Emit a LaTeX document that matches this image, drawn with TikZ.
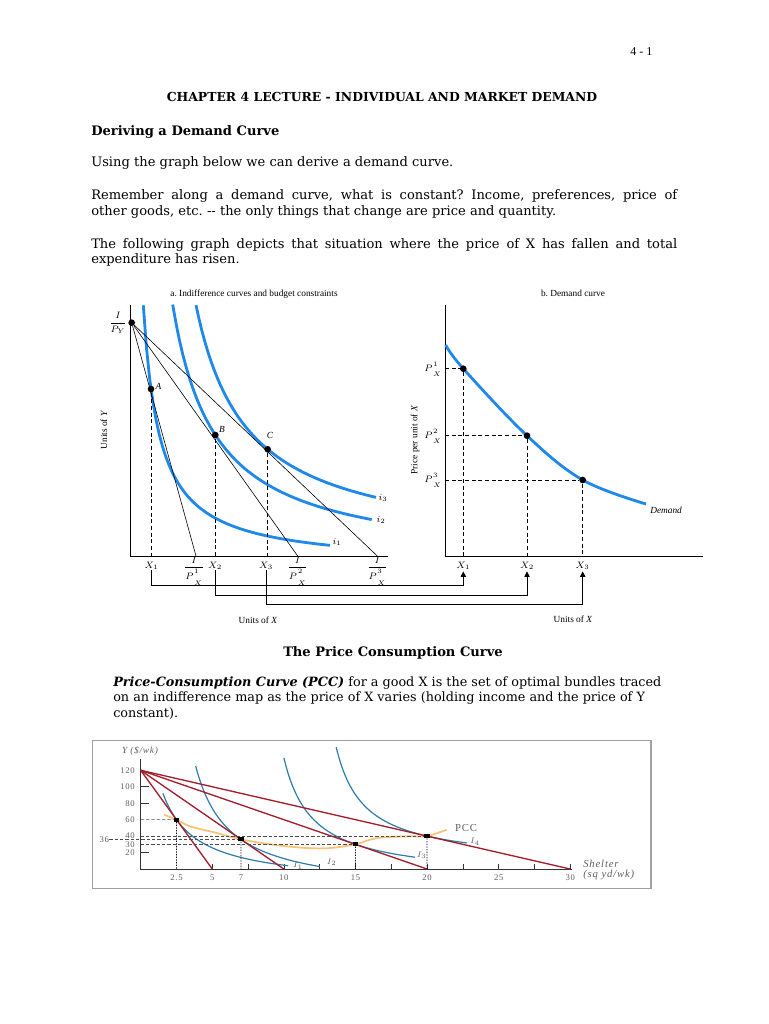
\documentclass[tikz,border=0pt]{standalone}
\usepackage{fontspec}
\setmainfont{DejaVu Serif}
\newfontfamily\figfont{Liberation Serif}
\newfontfamily\plotfont[LetterSpace=8]{Liberation Serif}
\usetikzlibrary{arrows.meta, positioning, calc}
\definecolor{curveblue}{RGB}{30,136,235}
\definecolor{icteal}{RGB}{45,125,170}
\definecolor{budgetred}{RGB}{165,30,45}
\definecolor{pccorange}{RGB}{250,195,115}
\definecolor{plotgray}{RGB}{95,95,95}
\definecolor{framegray}{RGB}{160,160,160}
\frenchspacing
\newcommand{\pricex}[2][1.2pt]{P\mkern1mu{}^{\raisebox{#1}{$\scriptstyle #2$}}_{\raisebox{-#1}{$\scriptstyle X$}}}

\begin{document}
\begin{tikzpicture}[
  x=0.75pt, y=-0.75pt,
  bodytext/.style={anchor=base west, inner sep=0pt, font=\fontsize{9.8}{12}\selectfont},
  lbl/.style={inner sep=0pt, font=\figfont\fontsize{7}{8}\selectfont},
  plbl/.style={inner sep=0pt, text=plotgray, font=\plotfont\fontsize{6.5}{7.5}\selectfont},
  icurve/.style={curveblue, line width=2.1pt},
  budget/.style={black, line width=0.45pt},
  guide/.style={black, dash pattern=on 3pt off 2pt, line width=0.6pt},
  link/.style={black, line width=0.5pt, -{Triangle[length=4pt, width=4pt]}},
  optdot/.style={circle, fill=black, inner sep=0pt, minimum size=5pt},
  bline/.style={budgetred, line width=1pt},
  tcurve/.style={icteal, line width=0.9pt},
  pdash/.style={black!70, dash pattern=on 2.5pt off 1.5pt, line width=0.5pt},
  pdot/.style={black, dash pattern=on 1pt off 1pt, line width=0.6pt},
  sqpt/.style={rectangle, fill=black, inner sep=0pt, minimum width=4pt, minimum height=3pt}
]
\useasboundingbox (0,0) rectangle (768,1024);
\fill[white] (0,0) rectangle (768,1024);

% page text
\node[anchor=base east, inner sep=0pt, font=\figfont\fontsize{9}{11}\selectfont] (pageno) at (652.7,56) {4 - 1};
\node[anchor=base, inner sep=0pt, font=\fontsize{9.3}{12}\selectfont\bfseries] (chapter) at (382,101.8) {CHAPTER 4 LECTURE - INDIVIDUAL AND MARKET DEMAND};
\node[bodytext, font=\fontsize{9.8}{12}\selectfont\bfseries] (derive) at (91,135) {Deriving a Demand Curve};
\node[bodytext] (using) at (91,166.5) {Using the graph below we can derive a demand curve.};
\node[bodytext] (remember) at (91,199.7) {\makebox[439.5pt][s]{Remember along a demand curve, what is constant? Income, preferences, price of}};
\node[bodytext] (other) at (91,215.4) {other goods, etc. -{}- the only things that change are price and quantity.};
\node[bodytext] (following) at (91,248) {\makebox[439.5pt][s]{The following graph depicts that situation where the price of X has fallen and total}};
\node[bodytext] (risen) at (91,263.7) {expenditure has risen.};

% a. indifference curves and budget constraints
\coordinate (origa) at (130.7,556);
\draw[black, line width=0.6pt] (130.7,305) -- (origa) -- (388,556);
\node[lbl] (titlea) at (254,294) {a. Indifference curves and budget constraints};
\node[lbl, rotate=90] (unitsya) at (104,430) {Units of \textit{Y}};
\node[lbl] (unitsxa) at (258,620) {Units of \textit{X}};

\draw[icurve] plot[domain=143.3:330, samples=60] (\x, {566.3-4255/(\x-127)});
\draw[icurve] plot[domain=172.7:371.7, samples=60] (\x, {565.7-11150/(\x-130)});
\draw[icurve] plot[domain=196:376, samples=60] (\x, {551.8-12577/(\x-145)});
\node[lbl] (ione) at (337,542) {$i_1$};
\node[lbl] (itwo) at (381,520) {$i_2$};
\node[lbl] (ithree) at (383,498) {$i_3$};

\coordinate (bx1) at (196,556);
\coordinate (bx2) at (297.7,556);
\coordinate (bx3) at (377.3,556);
\node[optdot] (ptiy) at (131.7,322.7) {};
\draw[budget] (ptiy) -- (bx1);
\draw[budget] (ptiy) -- (bx2);
\draw[budget] (ptiy) -- (bx3);
\node[lbl] (iy) at (118,323) {$\displaystyle\frac{I}{P_Y}$};

\node[optdot] (ptA) at (151,389) {};
\node[optdot] (ptB) at (215.3,435) {};
\node[optdot] (ptC) at (267.7,449.3) {};
\node[lbl] (labA) at (158.5,386) {\textit{A}};
\node[lbl] (labB) at (222,429.5) {\textit{B}};
\node[lbl] (labC) at (270,435.5) {\textit{C}};
\draw[guide] (ptA) -- (ptA |- origa);
\draw[guide] (ptB) -- (ptB |- origa);
\draw[guide] (ptC) -- (ptC |- origa);

\node[lbl] (xa1) at (151.7,566) {$X_1$};
\node[lbl] (xa2) at (215,566) {$X_2$};
\node[lbl] (xa3) at (266,566) {$X_3$};
\node[lbl] (fx1) at (194,571) {$\displaystyle\frac{I}{\pricex[2.2pt]{1}}$};
\node[lbl] (fx2) at (297.7,571) {$\displaystyle\frac{I}{\pricex[2.2pt]{2}}$};
\node[lbl] (fx3) at (377.3,571) {$\displaystyle\frac{I}{\pricex[2.2pt]{3}}$};

% b. demand curve
\coordinate (origb) at (445,556);
\draw[black, line width=0.6pt] (445,305) -- (origb) -- (702.7,556);
\node[lbl] (titleb) at (573,293) {b. Demand curve};
\node[lbl, rotate=90] (unitsyb) at (415,440) {Price per unit of \textit{X}};
\node[lbl] (unitsxb) at (573,619) {Units of \textit{X}};

\draw[icurve] plot[smooth, tension=0.6] coordinates {(445.7,345) (463.3,368.7) (527,435.7) (582.7,480) (646,504)};
\node[lbl, anchor=west] (demand) at (650,510) {\textit{Demand}};

\node[optdot] (d1) at (463.3,368.7) {};
\node[optdot] (d2) at (527,435.7) {};
\node[optdot] (d3) at (582.7,480) {};
\node[lbl, anchor=east] (p1) at (442,369) {$\pricex{1}$};
\node[lbl, anchor=east] (p2) at (442,436) {$\pricex{2}$};
\node[lbl, anchor=east] (p3) at (442,480) {$\pricex{3}$};
\draw[guide] (d1 -| origb) -- (d1);
\draw[guide, line width=1pt] (d2 -| origb) -- (d2);
\draw[guide] (d3 -| origb) -- (d3);
\draw[guide] (d1) -- (d1 |- origb);
\draw[guide] (d2) -- (d2 |- origb);
\draw[guide] (d3) -- (d3 |- origb);

\node[lbl] (xb1) at (463.3,566) {$X_1$};
\node[lbl] (xb2) at (527,566) {$X_2$};
\node[lbl] (xb3) at (582.7,566) {$X_3$};

% links from a to b
\coordinate (bus1) at (0,585);
\coordinate (bus2) at (0,595);
\coordinate (bus3) at (0,604);
\draw[link] (xa1.south) -- (xa1.south |- bus1) -| ([yshift=-1pt]xb1.south);
\draw[link] (xa2.south) -- (xa2.south |- bus2) -| ([yshift=-1pt]xb2.south);
\draw[link] (xa3.south) -- (xa3.south |- bus3) -| ([yshift=-1pt]xb3.south);

% the price consumption curve
\node[anchor=base, inner sep=0pt, font=\fontsize{9.8}{12}\selectfont\bfseries] (pcctitle) at (393,656) {The Price Consumption Curve};
\node[bodytext, font=\fontsize{9.6}{12}\selectfont] (pccdef1) at (113,686) {\textbf{\textit{Price-Consumption Curve (PCC)}} for a good X is the set of optimal bundles traced};
\node[bodytext, font=\fontsize{9.6}{12}\selectfont] (pccdef2) at (113,701.7) {on an indifference map as the price of X varies (holding income and the price of Y};
\node[bodytext, font=\fontsize{9.6}{12}\selectfont] (pccdef3) at (113,717.4) {constant).};

\draw[framegray, line width=1.2pt] (92.5,740.5) rectangle (651,888.5);
\begin{scope}[shift={(140.7,869)}, xscale=14.32, yscale=-0.8225]
  \coordinate (o) at (0,0);
  \draw[black!80, line width=0.6pt] (0,134) -- (o) -- (30.15,0);
  \foreach \t in {5,7.5,...,30} \draw[black!80, line width=0.6pt] (\t,0) -- (\t,6);
  \foreach \v in {20,80,100} \draw[black!80, line width=0.6pt] (0,\v) -- (0.55,\v);
  \foreach \v in {120,100,80,60,40,30,20} \node[plbl, anchor=east] (ylab\v) at (-0.4,\v) {\v};
  \node[plbl, anchor=east] (ylab36) at (-2.2,36) {36};
  \foreach \t [count=\k] in {2.5,5,7,10,15,20,25,30} \node[plbl] (xlab\k) at (\t,-11) {\t};

  \draw[tcurve] plot[domain=1.55:10.3, samples=60] (\x, {-20+266.7/(\x+0.833)});
  \draw[tcurve] plot[domain=3.84:12.5, samples=60] (\x, {-30+363/(\x-1.5)});
  \draw[tcurve] plot[domain=10.0:19.15, samples=60] (\x, {-12+294/(\x-8)});
  \draw[tcurve] plot[domain=13.65:22.77, samples=60] (\x, {6.8+275.56/(\x-11.7)});

  \draw[pccorange, line width=1.3pt] plot[smooth, tension=0.5] coordinates {(1.63,66) (2.5,60) (3.44,51.9) (5.31,43.8) (7,36) (9.38,29.2) (11.59,25.5) (13.22,25.5) (15,30) (16.01,35.6) (16.94,38.5) (18.81,39.8) (20,40) (21.37,47.8)};

  \coordinate (top) at (0,120);
  \coordinate (s5) at (5,0);
  \coordinate (s10) at (10,0);
  \coordinate (s20) at (20,0);
  \coordinate (s30) at (30,0);
  \draw[bline] (top) -- (s5);
  \draw[bline] (top) -- (s10);
  \draw[bline] (top) -- (s20);
  \draw[bline] (top) -- (s30);

  \node[sqpt] (q1) at (2.5,60) {};
  \node[sqpt] (q2) at (7,36) {};
  \node[sqpt] (q3) at (15,30) {};
  \node[sqpt] (q4) at (20,40) {};
  \draw[pdash] (q1 -| o) -- (q1);
  \draw[pdash] (ylab36.east) -- (q2);
  \draw[pdash] (q3 -| o) -- (q3);
  \draw[pdash] (q4 -| o) -- (q4);
  \draw[pdot] (q1) -- (q1 |- o);
  \draw[pdot] (q2) -- (q2 |- o);
  \draw[pdot] (q3) -- (q3 |- o);
  \draw[pdot] (q4) -- (q4 |- o);
\end{scope}
\node[plbl, font=\plotfont\itshape\fontsize{7}{8}\selectfont] (yunit) at (140,751) {Y (\$/wk)};
\node[plbl, font=\plotfont\fontsize{8}{9}\selectfont] (pcclab) at (466,828) {PCC};
\node[plbl] (Ione) at (298,865.7) {$I_1$};
\node[plbl] (Itwo) at (331.7,862.3) {$I_2$};
\node[plbl] (Ithree) at (421.7,855.3) {$I_3$};
\node[plbl] (Ifour) at (475,842) {$I_4$};
\node[plbl, anchor=west, font=\plotfont\itshape\fontsize{8}{8}\selectfont] (shelter) at (583,864) {Shelter};
\node[plbl, anchor=west, font=\plotfont\itshape\fontsize{8}{8}\selectfont] (sqyd) at (583,874.5) {(sq yd/wk)};
\end{tikzpicture}
\end{document}
